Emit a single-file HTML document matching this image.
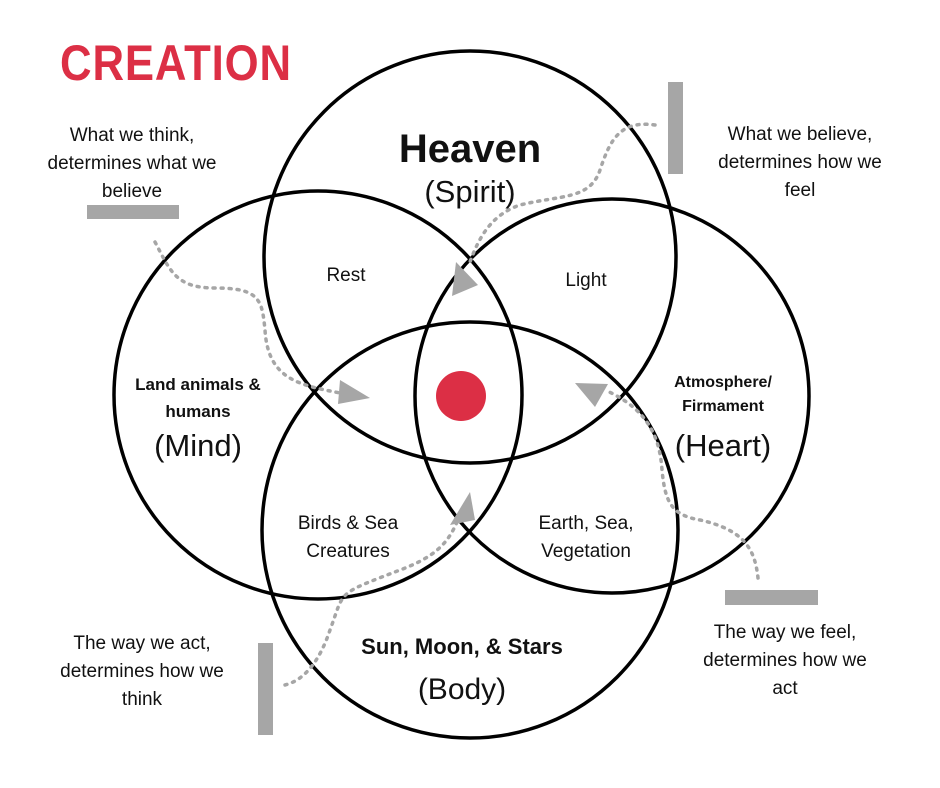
<!DOCTYPE html>
<html><head><meta charset="utf-8"><style>
html,body{margin:0;padding:0;background:#fff;}
svg{display:block;}
text{font-family:"Liberation Sans","DejaVu Sans",sans-serif;fill:#111;}
</style></head><body>
<svg width="940" height="788" viewBox="0 0 940 788" xmlns="http://www.w3.org/2000/svg">
<rect width="940" height="788" fill="#fff"/>
<text x="60" y="80" font-size="50" font-weight="bold" fill="#dc2f45" style="fill:#dc2f45;letter-spacing:1px" textLength="232" lengthAdjust="spacingAndGlyphs">CREATION</text>
<g fill="none" stroke="#000" stroke-width="3.5">
<circle cx="470" cy="257" r="206"/>
<circle cx="318" cy="395" r="204"/>
<circle cx="612" cy="396" r="197"/>
<circle cx="470" cy="530" r="208"/>
</g>
<circle cx="461" cy="396" r="25" fill="#dc2f45"/>
<g fill="#a6a6a6">
<rect x="87" y="205" width="92" height="14"/>
<rect x="668" y="82" width="15" height="92"/>
<rect x="725" y="590" width="93" height="15"/>
<rect x="258" y="643" width="15" height="92"/>
</g>
<g fill="none" stroke="#a6a6a6" stroke-width="3.5" stroke-dasharray="2 6" stroke-linecap="round">
<path d="M155 242 C170 270 175 288 215 288 C260 288 262 300 265 330 C268 380 300 385 340 393"/>
<path d="M655 125 C620 120 610 140 600 170 C590 200 560 195 520 205 C490 215 478 240 470 262"/>
<path d="M758 578 C755 550 745 530 700 520 C670 515 665 500 662 470 C660 440 650 410 605 390"/>
<path d="M285 685 C305 680 320 660 330 630 C345 590 335 595 400 570 C440 555 450 540 460 515"/>
</g>
<g fill="#a6a6a6">
<polygon points="340,380 370,398 338,404"/>
<polygon points="452,296 456,262 478,285"/>
<polygon points="575,383 608,384 595,407"/>
<polygon points="450,525 470,492 475,520"/>
</g>
<g text-anchor="middle">
<text x="132" y="141" font-size="19">What we think,</text>
<text x="132" y="169" font-size="19">determines what we</text>
<text x="132" y="197" font-size="19">believe</text>
<text x="800" y="140" font-size="19">What we believe,</text>
<text x="800" y="168" font-size="19">determines how we</text>
<text x="800" y="196" font-size="19">feel</text>
<text x="785" y="638" font-size="19">The way we feel,</text>
<text x="785" y="666" font-size="19">determines how we</text>
<text x="785" y="694" font-size="19">act</text>
<text x="142" y="649" font-size="19">The way we act,</text>
<text x="142" y="677" font-size="19">determines how we</text>
<text x="142" y="705" font-size="19">think</text>
<text x="470" y="162" font-size="40" font-weight="bold">Heaven</text>
<text x="470" y="202" font-size="31">(Spirit)</text>
<text x="346" y="281" font-size="19">Rest</text>
<text x="586" y="286" font-size="19">Light</text>
<text x="198" y="390" font-size="17" font-weight="bold">Land animals &amp;</text>
<text x="198" y="417" font-size="17" font-weight="bold">humans</text>
<text x="198" y="456" font-size="31">(Mind)</text>
<text x="723" y="387" font-size="16" font-weight="bold">Atmosphere/</text>
<text x="723" y="411" font-size="16" font-weight="bold">Firmament</text>
<text x="723" y="456" font-size="31">(Heart)</text>
<text x="348" y="529" font-size="19">Birds &amp; Sea</text>
<text x="348" y="557" font-size="19">Creatures</text>
<text x="586" y="529" font-size="19">Earth, Sea,</text>
<text x="586" y="557" font-size="19">Vegetation</text>
<text x="462" y="654" font-size="22" font-weight="bold">Sun, Moon, &amp; Stars</text>
<text x="462" y="699" font-size="30">(Body)</text>
</g>
</svg>
</body></html>
